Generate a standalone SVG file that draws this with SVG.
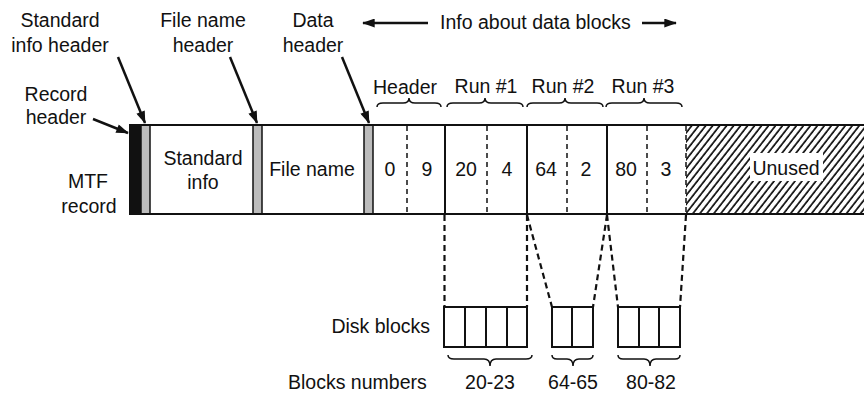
<svg xmlns="http://www.w3.org/2000/svg" width="864" height="393" viewBox="0 0 864 393">
<style>
text{font-family:"Liberation Sans",Arial,sans-serif;font-size:19.5px;fill:#111}
.m{text-anchor:middle}
.e{text-anchor:end}
.box{fill:#fff;stroke:#111;stroke-width:2}
.gray{fill:#bcbcbc;stroke:#111;stroke-width:1.5}
.dv{stroke:#111;stroke-width:1.5;stroke-dasharray:5,4;fill:none}
.dl{stroke:#111;stroke-width:2.2;stroke-dasharray:6,4;fill:none}
.ln{stroke:#111;stroke-width:2;fill:none}
.br{stroke:#111;stroke-width:1.5;fill:none}
.ar{stroke:#111;stroke-width:2.5;fill:none}
</style>
<defs>
<marker id="ah" viewBox="0 0 14 10" refX="13" refY="5" markerWidth="14" markerHeight="9" markerUnits="userSpaceOnUse" orient="auto">
<path d="M0,0 L14,5 L0,10 Z" fill="#111"/>
</marker>
<pattern id="hatch" width="5.5" height="6" patternUnits="userSpaceOnUse" patternTransform="rotate(38)">
<line x1="1" y1="0" x2="1" y2="6" stroke="#000" stroke-width="1.6"/>
</pattern>
</defs>

<g id="labels-top">
<text class="m" x="60" y="27">Standard</text>
<text class="m" x="60" y="52">info header</text>
<text class="m" x="203" y="27">File name</text>
<text class="m" x="203" y="52">header</text>
<text class="m" x="313" y="27">Data</text>
<text class="m" x="313" y="52">header</text>
<text class="m" x="56" y="101">Record</text>
<text class="m" x="56" y="124">header</text>
<text x="440" y="29">Info about data blocks</text>
<text class="m" x="88" y="188">MTF</text>
<text class="m" x="89" y="213">record</text>
</g>

<g id="record">
<rect class="box" x="130" y="125" width="740" height="89"/>
<rect x="686" y="126" width="180" height="87" fill="url(#hatch)"/>
<rect x="750" y="153" width="73" height="28" fill="#fff"/>
<rect x="130" y="125" width="11" height="89" fill="#111"/>
<rect class="gray" x="141" y="125" width="9" height="89"/>
<rect class="gray" x="253" y="125" width="9" height="89"/>
<rect class="gray" x="364" y="125" width="9" height="89"/>
<line class="ln" x1="445" y1="125" x2="445" y2="214"/>
<line class="ln" x1="527" y1="125" x2="527" y2="214"/>
<line class="ln" x1="607" y1="125" x2="607" y2="214"/>
<line class="dv" x1="407" y1="126" x2="407" y2="214"/>
<line class="dv" x1="487" y1="126" x2="487" y2="214"/>
<line class="dv" x1="567" y1="126" x2="567" y2="214"/>
<line class="dv" x1="647" y1="126" x2="647" y2="214"/>
<line class="dv" x1="686" y1="126" x2="686" y2="214"/>
<line class="ln" x1="130" y1="125" x2="864" y2="125"/>
<line class="ln" x1="130" y1="214" x2="864" y2="214"/>
<text class="m" x="203" y="165">Standard</text>
<text class="m" x="203" y="189">info</text>
<text class="m" x="312" y="176">File name</text>
<text class="m" x="390" y="176">0</text>
<text class="m" x="427" y="176">9</text>
<text class="m" x="466" y="176">20</text>
<text class="m" x="507" y="176">4</text>
<text class="m" x="546" y="176">64</text>
<text class="m" x="586" y="176">2</text>
<text class="m" x="626" y="176">80</text>
<text class="m" x="666" y="176">3</text>
<text class="m" x="786" y="175">Unused</text>
</g>

<g id="run-labels">
<text class="m" x="405" y="94">Header</text>
<text class="m" x="486" y="93">Run #1</text>
<text class="m" x="563" y="93">Run #2</text>
<text class="m" x="643" y="93">Run #3</text>
<path class="br" d="M377,107 Q377,103 383,103 L403,103 Q409,103 409,98 Q409,103 415,103 L435,103 Q441,103 441,107"/>
<path class="br" d="M447,107 Q447,103 453,103 L479,103 Q485,103 485,98 Q485,103 491,103 L517,103 Q523,103 523,107"/>
<path class="br" d="M527,107 Q527,103 533,103 L559,103 Q565,103 565,98 Q565,103 571,103 L597,103 Q603,103 603,107"/>
<path class="br" d="M606,107 Q606,103 612,103 L638,103 Q644,103 644,98 Q644,103 650,103 L676,103 Q682,103 682,107"/>
</g>

<g id="disk-blocks">
<rect class="box" x="444" y="307" width="83" height="40"/>
<line class="ln" x1="465" y1="307" x2="465" y2="347"/>
<line class="ln" x1="486" y1="307" x2="486" y2="347"/>
<line class="ln" x1="507" y1="307" x2="507" y2="347"/>
<rect class="box" x="552" y="307" width="41" height="40"/>
<line class="ln" x1="572" y1="307" x2="572" y2="347"/>
<rect class="box" x="618" y="307" width="62" height="40"/>
<line class="ln" x1="639" y1="307" x2="639" y2="347"/>
<line class="ln" x1="659" y1="307" x2="659" y2="347"/>
<text class="e" x="430" y="333">Disk blocks</text>
<path class="br" d="M448,355 Q448,359 454,359 L484,359 Q490,359 490,366 Q490,359 496,359 L526,359 Q532,359 532,355"/>
<path class="br" d="M552,355 Q552,359 557,359 L567,359 Q573,359 573,366 Q573,359 579,359 L588,359 Q593,359 593,355"/>
<path class="br" d="M618,355 Q618,359 623,359 L644,359 Q650,359 650,366 Q650,359 656,359 L675,359 Q680,359 680,355"/>
<text x="288" y="389">Blocks numbers</text>
<text class="m" x="490" y="389">20-23</text>
<text class="m" x="573" y="389">64-65</text>
<text class="m" x="651" y="389">80-82</text>
</g>

<g id="connectors">
<line class="dl" x1="444.5" y1="215" x2="444.5" y2="307"/>
<line class="dl" x1="527" y1="215" x2="527" y2="307"/>
<line class="dl" x1="527" y1="215" x2="552" y2="307"/>
<line class="dl" x1="607" y1="215" x2="593" y2="307"/>
<line class="dl" x1="607" y1="215" x2="618" y2="307"/>
<line class="dl" x1="686" y1="215" x2="680" y2="307"/>
<line class="ar" x1="93" y1="119" x2="128" y2="133" marker-end="url(#ah)"/>
<line class="ar" x1="118" y1="57" x2="145" y2="123" marker-end="url(#ah)"/>
<line class="ar" x1="230" y1="57" x2="257" y2="123" marker-end="url(#ah)"/>
<line class="ar" x1="342" y1="57" x2="369" y2="123" marker-end="url(#ah)"/>
<line class="ar" x1="428" y1="23" x2="363" y2="23" marker-end="url(#ah)"/>
<line class="ar" x1="642" y1="23" x2="676" y2="23" marker-end="url(#ah)"/>
</g>
</svg>
